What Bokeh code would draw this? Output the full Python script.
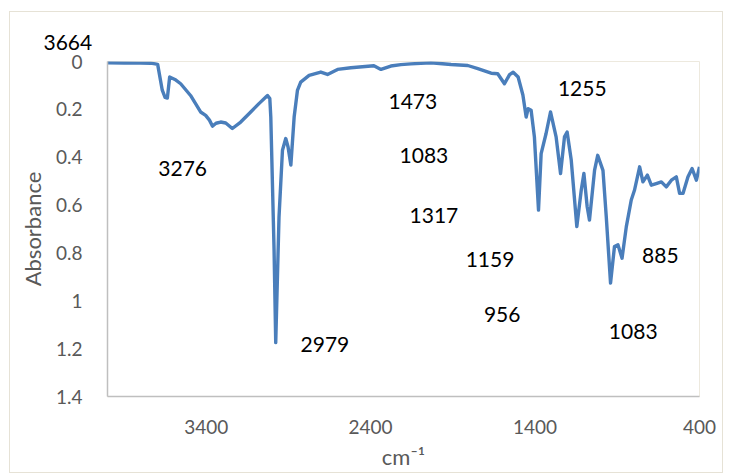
from bokeh.plotting import figure
from bokeh.models import Range1d, FixedTicker, Label
from bokeh.embed import file_html
from bokeh.resources import INLINE

# ---- data ----
wavenumber = [4000, 3900, 3800, 3738, 3710, 3695, 3667, 3650, 3636, 3622, 3590, 3555,
              3495, 3434, 3403, 3380, 3362, 3340, 3312, 3281, 3241, 3190, 3129, 3079,
              3032, 3027, 3013, 3007, 2987, 2977, 2957, 2936, 2916, 2902, 2885, 2865,
              2845, 2825, 2774, 2703, 2662, 2601, 2520, 2380, 2337, 2277, 2216, 2155,
              2033, 1911, 1809, 1748, 1667, 1627, 1586, 1555, 1533, 1503, 1474, 1454,
              1442, 1424, 1404, 1379, 1363, 1333, 1306, 1272, 1245, 1221, 1205, 1180,
              1146, 1119, 1103, 1083, 1069, 1038, 1019, 987, 967, 941, 917, 896, 871,
              845, 815, 795, 764, 744, 717, 693, 663, 632, 602, 571, 541, 521, 500,
              470, 445, 419, 400]
absorbance = [0.005, 0.006, 0.007, 0.007, 0.010, 0.012, 0.120, 0.150, 0.153, 0.065, 0.075, 0.093,
              0.142, 0.211, 0.225, 0.245, 0.270, 0.258, 0.253, 0.257, 0.280, 0.253, 0.211, 0.176,
              0.145, 0.142, 0.155, 0.232, 0.790, 1.175, 0.649, 0.371, 0.322, 0.357, 0.433, 0.232,
              0.121, 0.086, 0.058, 0.044, 0.054, 0.033, 0.026, 0.018, 0.033, 0.019, 0.013, 0.010,
              0.005, 0.0125, 0.0167, 0.030, 0.049, 0.051, 0.093, 0.055, 0.045, 0.065, 0.140, 0.232,
              0.197, 0.204, 0.315, 0.621, 0.385, 0.301, 0.211, 0.315, 0.468, 0.315, 0.295, 0.412,
              0.690, 0.537, 0.468, 0.607, 0.663, 0.454, 0.392, 0.455, 0.648, 0.926, 0.773, 0.766, 0.822,
              0.690, 0.579, 0.537, 0.440, 0.503, 0.475, 0.517, 0.510, 0.503, 0.524, 0.496, 0.482, 0.551, 0.551,
              0.482, 0.447, 0.496, 0.440]

x_ticks = [3400, 2400, 1400, 400]
x_tick_labels = ["3400", "2400", "1400", "400"]
y_ticks = [0, 0.2, 0.4, 0.6, 0.8, 1.0, 1.2, 1.4]
y_tick_labels = ["0", "0.2", "0.4", "0.6", "0.8", "1", "1.2", "1.4"]

corner_label = "3664"
peak_labels = ["3276", "2979", "1473", "1083", "1317", "1159", "956", "1255", "885", "1083"]
# label anchor positions (data coordinates)
peak_label_x = [3543, 2678, 2143, 2076, 2015, 1674, 1600, 1113, 638, 803]
peak_label_y = [0.446, 1.183, 0.167, 0.392, 0.642, 0.829, 1.058, 0.1125, 0.8125, 1.129]

FONT = "Lato"
GRAY = "#595959"

p = figure(width=712, height=460, output_backend="svg", toolbar_location=None,
           x_range=Range1d(4000, 400), y_range=Range1d(1.4, 0),
           min_border_left=97, min_border_right=23, min_border_top=49, min_border_bottom=75,
           margin=(12, 0, 0, 10),
           styles={"outline": "1px solid #E6E2D6"})
p.background_fill_color = "white"
p.border_fill_color = "white"
p.outline_line_color = "#EDE9DE"
p.grid.visible = False

p.line(wavenumber, absorbance, line_color="#4A7EBB", line_width=3.4, line_join="round")

for ax, ticks, labels in ((p.xaxis, x_ticks, x_tick_labels), (p.yaxis, y_ticks, y_tick_labels)):
    ax.ticker = FixedTicker(ticks=ticks)
    ax.major_label_overrides = {t: l for t, l in zip(ticks, labels)}
    ax.axis_line_color = "#BFBFBF"
    ax.axis_line_width = 1.5
    ax.major_tick_line_color = None
    ax.minor_tick_line_color = None
    ax.major_label_text_font = FONT
    ax.major_label_text_font_size = "19px"
    ax.major_label_text_color = GRAY
    ax.axis_label_text_font = FONT
    ax.axis_label_text_color = GRAY
    ax.axis_label_text_font_style = "normal"
p.xaxis.major_label_standoff = 17
p.yaxis.major_label_standoff = 19
p.yaxis.axis_label = "Absorbance"
p.yaxis.axis_label_text_font_size = "22px"
p.yaxis.axis_label_standoff = 7
p.xaxis.axis_label = "cm\u207b\u00b9"
p.xaxis.axis_label_text_font_size = "22px"
p.xaxis.axis_label_standoff = 6

# top-left text outside the plot area
p.title.text = corner_label
p.title.align = "left"
p.title.vertical_align = "middle"
p.title.offset = -64
p.title.standoff = 21
p.title.text_font = FONT
p.title.text_font_size = "21px"
p.title.text_font_style = "normal"
p.title.text_color = "black"

for t, x, y in zip(peak_labels, peak_label_x, peak_label_y):
    p.add_layout(Label(x=x, y=y, text=t, text_align="center", text_baseline="middle",
                       text_font=FONT, text_font_size="21px", text_color="black"))

open("out.html", "w").write(file_html(p, INLINE))
